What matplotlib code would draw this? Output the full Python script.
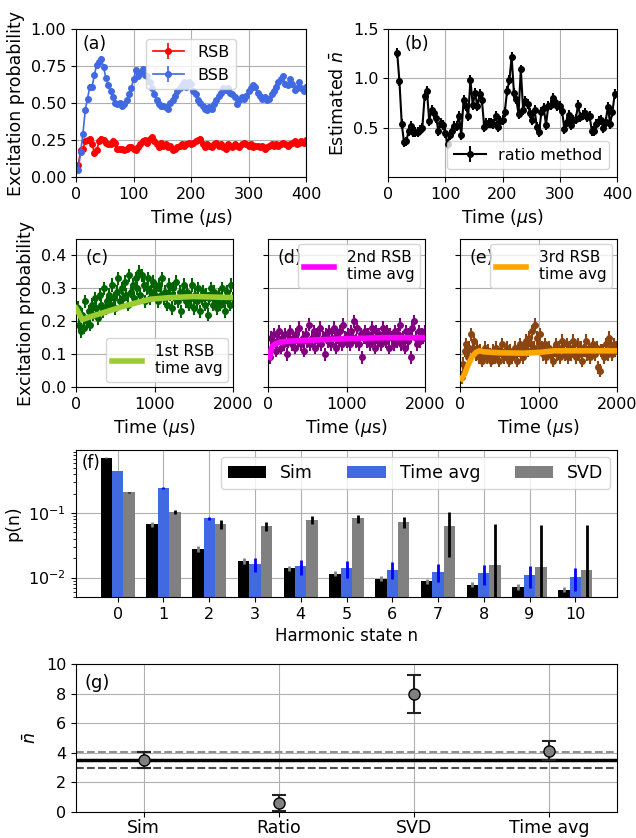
import numpy as np
import matplotlib.pyplot as plt

# ---- panel (a): sideband flopping ----
t_a = np.arange(4, 401, 4)
bsb = [0.05, 0.17, 0.29, 0.45, 0.53, 0.61, 0.61, 0.69, 0.76, 0.78,
       0.80, 0.74, 0.67, 0.62, 0.58, 0.54, 0.50, 0.49, 0.50, 0.48,
       0.49, 0.52, 0.56, 0.60, 0.66, 0.72, 0.68, 0.70, 0.73, 0.69,
       0.68, 0.64, 0.60, 0.56, 0.52, 0.49, 0.48, 0.48, 0.47, 0.46,
       0.50, 0.52, 0.55, 0.58, 0.60, 0.62, 0.64, 0.61, 0.64, 0.63,
       0.58, 0.56, 0.52, 0.50, 0.48, 0.46, 0.45, 0.47, 0.46, 0.49,
       0.52, 0.55, 0.57, 0.60, 0.59, 0.60, 0.57, 0.56, 0.54, 0.49,
       0.52, 0.54, 0.53, 0.55, 0.58, 0.60, 0.62, 0.61, 0.57, 0.55,
       0.53, 0.54, 0.52, 0.53, 0.56, 0.58, 0.61, 0.64, 0.66, 0.68,
       0.63, 0.62, 0.66, 0.63, 0.59, 0.60, 0.64, 0.60, 0.58, 0.61]
rsb = [0.08, 0.18, 0.19, 0.24, 0.25, 0.26, 0.22, 0.16, 0.18, 0.24,
       0.26, 0.25, 0.23, 0.22, 0.22, 0.24, 0.23, 0.19, 0.19, 0.19,
       0.18, 0.19, 0.20, 0.20, 0.19, 0.18, 0.20, 0.22, 0.24, 0.25,
       0.23, 0.26, 0.27, 0.24, 0.22, 0.20, 0.23, 0.21, 0.22, 0.20,
       0.21, 0.18, 0.19, 0.20, 0.21, 0.22, 0.21, 0.22, 0.23, 0.22,
       0.23, 0.24, 0.25, 0.26, 0.22, 0.20, 0.22, 0.21, 0.20, 0.22,
       0.23, 0.21, 0.22, 0.20, 0.19, 0.22, 0.21, 0.20, 0.22, 0.21,
       0.20, 0.22, 0.23, 0.22, 0.21, 0.22, 0.20, 0.21, 0.21, 0.20,
       0.21, 0.19, 0.20, 0.21, 0.22, 0.21, 0.22, 0.21, 0.22, 0.23,
       0.22, 0.21, 0.22, 0.23, 0.24, 0.22, 0.23, 0.24, 0.23, 0.25]
sb_err = 0.015

# ---- panel (b): ratio method ----
t_b = np.arange(16, 397, 4)
nbar_ratio = [1.26, 0.97, 0.54, 0.35, 0.36, 0.47, 0.52, 0.46, 0.46, 0.46,
              0.48, 0.50, 0.82, 0.87, 0.57, 0.68, 0.65, 0.60, 0.47, 0.55,
              0.53, 0.45, 0.33, 0.43, 0.47, 0.52, 0.52, 0.62, 0.43, 0.78,
              0.72, 0.62, 0.98, 0.73, 0.85, 0.72, 0.84, 0.78, 0.51, 0.55,
              0.55, 0.55, 0.54, 0.62, 0.51, 0.57, 0.58, 0.66, 0.87, 0.98,
              1.22, 0.85, 0.79, 0.64, 1.09, 0.68, 0.77, 0.74, 0.65, 0.58,
              0.68, 0.51, 0.46, 0.66, 0.70, 0.53, 0.72, 0.73, 0.80, 0.76,
              0.72, 0.72, 0.67, 0.49, 0.56, 0.63, 0.53, 0.58, 0.59, 0.73,
              0.61, 0.63, 0.65, 0.61, 0.62, 0.47, 0.47, 0.54, 0.57, 0.58,
              0.50, 0.56, 0.71, 0.54, 0.66, 0.84]
ratio_err = 0.05

# ---- panels (c)-(e): long time RSB ----
t_c = np.arange(20, 2001, 20)
rsb1 = [0.24, 0.19, 0.17, 0.22, 0.18, 0.26, 0.20, 0.23, 0.19, 0.25,
        0.22, 0.27, 0.24, 0.21, 0.28, 0.25, 0.23, 0.30, 0.24, 0.26,
        0.28, 0.25, 0.31, 0.27, 0.24, 0.29, 0.33, 0.26, 0.30, 0.27,
        0.32, 0.28, 0.25, 0.34, 0.29, 0.31, 0.27, 0.33, 0.30, 0.35,
        0.28, 0.34, 0.31, 0.26, 0.30, 0.33, 0.27, 0.29, 0.32, 0.28,
        0.30, 0.26, 0.31, 0.28, 0.33, 0.27, 0.29, 0.25, 0.31, 0.28,
        0.24, 0.30, 0.27, 0.32, 0.26, 0.29, 0.23, 0.28, 0.31, 0.26,
        0.29, 0.25, 0.27, 0.31, 0.24, 0.28, 0.26, 0.30, 0.23, 0.27,
        0.29, 0.25, 0.28, 0.22, 0.27, 0.30, 0.25, 0.29, 0.26, 0.24,
        0.28, 0.25, 0.30, 0.26, 0.23, 0.29, 0.27, 0.25, 0.31, 0.27]
rsb2 = [0.09, 0.15, 0.13, 0.16, 0.11, 0.14, 0.17, 0.12, 0.15, 0.13,
        0.16, 0.10, 0.14, 0.17, 0.13, 0.15, 0.12, 0.16, 0.14, 0.18,
        0.13, 0.15, 0.11, 0.16, 0.14, 0.19, 0.13, 0.15, 0.17, 0.12,
        0.16, 0.14, 0.18, 0.13, 0.15, 0.10, 0.16, 0.14, 0.17, 0.13,
        0.15, 0.18, 0.12, 0.16, 0.14, 0.17, 0.13, 0.19, 0.15, 0.14,
        0.16, 0.13, 0.17, 0.15, 0.20, 0.14, 0.18, 0.13, 0.16, 0.09,
        0.15, 0.17, 0.14, 0.16, 0.13, 0.18, 0.15, 0.12, 0.17, 0.14,
        0.16, 0.13, 0.18, 0.15, 0.14, 0.17, 0.12, 0.16, 0.15, 0.13,
        0.17, 0.14, 0.16, 0.19, 0.13, 0.15, 0.12, 0.17, 0.14, 0.16,
        0.09, 0.18, 0.20, 0.15, 0.13, 0.17, 0.14, 0.16, 0.15, 0.17]
rsb3 = [0.03, 0.07, 0.11, 0.13, 0.09, 0.12, 0.16, 0.11, 0.14, 0.10,
        0.12, 0.09, 0.11, 0.08, 0.10, 0.12, 0.09, 0.11, 0.10, 0.08,
        0.11, 0.09, 0.12, 0.10, 0.08, 0.11, 0.13, 0.09, 0.10, 0.12,
        0.08, 0.11, 0.09, 0.10, 0.12, 0.08, 0.11, 0.13, 0.10, 0.09,
        0.12, 0.14, 0.11, 0.15, 0.13, 0.17, 0.12, 0.19, 0.15, 0.13,
        0.16, 0.12, 0.10, 0.13, 0.09, 0.11, 0.12, 0.10, 0.08, 0.11,
        0.13, 0.10, 0.12, 0.09, 0.14, 0.11, 0.10, 0.13, 0.09, 0.12,
        0.10, 0.14, 0.11, 0.09, 0.13, 0.10, 0.12, 0.08, 0.11, 0.14,
        0.10, 0.12, 0.09, 0.11, 0.13, 0.10, 0.12, 0.06, 0.05, 0.11,
        0.11, 0.09, 0.13, 0.10, 0.15, 0.12, 0.10, 0.13, 0.11, 0.12]
rsb_long_err = 0.02

fit1_t = [0, 80, 200, 400, 600, 800, 950, 1200, 1500, 2000]
fit1 = [0.24, 0.205, 0.215, 0.23, 0.245, 0.258, 0.267, 0.272, 0.275, 0.272]
fit2_t = [20, 40, 60, 100, 150, 250, 400, 700, 1000, 1500, 2000]
fit2 = [0.09, 0.115, 0.125, 0.132, 0.136, 0.139, 0.141, 0.144, 0.147, 0.150, 0.150]
fit3_t = [20, 60, 100, 150, 200, 250, 300, 500, 800, 1000, 1200, 1500, 2000]
fit3 = [0.025, 0.04, 0.065, 0.09, 0.105, 0.11, 0.107, 0.104, 0.103, 0.105, 0.11, 0.11, 0.11]

# ---- panel (f): populations ----
n_states = np.arange(11)
p_sim = [0.72, 0.067, 0.028, 0.018, 0.014, 0.0115, 0.0096, 0.0087, 0.0078, 0.0072, 0.0065]
p_sim_err = [0.01, 0.007, 0.003, 0.002, 0.0012, 0.001, 0.0009, 0.0008, 0.0007, 0.0007, 0.0006]
p_tavg = [0.45, 0.245, 0.083, 0.016, 0.015, 0.014, 0.0133, 0.0124, 0.0116, 0.011, 0.0101]
p_tavg_err = [0.005, 0.005, 0.005, 0.004, 0.004, 0.004, 0.0039, 0.0038, 0.004, 0.004, 0.004]
p_svd = [0.21, 0.104, 0.067, 0.063, 0.078, 0.083, 0.072, 0.063, 0.0154, 0.0144, 0.0133]
p_svd_err = [0.004, 0.006, 0.01, 0.011, 0.011, 0.012, 0.014, 0.042, 0.052, 0.052, 0.052]

# ---- panel (g): nbar estimates ----
methods = ["Sim", "Ratio", "SVD", "Time avg"]
nbar_est = [3.5, 0.6, 8.0, 4.15]
nbar_err = [0.55, 0.55, 1.28, 0.65]
nbar_sim = 3.5
nbar_hi = 4.08
nbar_lo = 2.95

plt.rcParams["font.size"] = 11.5
plt.rcParams["axes.labelsize"] = 12.5
fig = plt.figure(figsize=(6.36, 8.38), dpi=100)
W, H = 636.0, 838.0


def rect(x0, x1, y0, y1):
    return [x0 / W, 1 - y1 / H, (x1 - x0) / W, (y1 - y0) / H]


mu_lab = r"Time ($\mu$s)"

# (a)
ax = fig.add_axes(rect(76, 306, 29, 177))
ax.errorbar(t_a, rsb, yerr=sb_err, fmt="o-", color="red", ms=4, lw=1.2, label="RSB")
ax.errorbar(t_a, bsb, yerr=sb_err, fmt="o-", color="royalblue", ms=4, lw=1.2, label="BSB")
ax.set_xlim(0, 400)
ax.set_ylim(0, 1)
ax.set_yticks([0, 0.25, 0.5, 0.75, 1.0])
ax.set_xlabel(mu_lab)
ax.set_ylabel("Excitation probability")
ax.grid(True)
ax.legend(loc="upper center", fontsize=11.5, borderaxespad=0.6)
ax.text(0.03, 0.96, "(a)", transform=ax.transAxes, va="top", fontsize=12.5)

# (b)
ax = fig.add_axes(rect(388, 617, 29, 177))
ax.errorbar(t_b, nbar_ratio, yerr=ratio_err, fmt="o-", color="black", ms=4, lw=1.5,
            label="ratio method")
ax.set_xlim(0, 400)
ax.set_ylim(0, 1.5)
ax.set_yticks([0.5, 1.0, 1.5])
ax.set_xlabel(mu_lab)
ax.set_ylabel(r"Estimated $\bar{n}$")
ax.grid(True)
ax.legend(loc="lower right", fontsize=11.5)
ax.text(0.07, 0.96, "(b)", transform=ax.transAxes, va="top", fontsize=12.5)

# (c)-(e)
panels = [
    (76, 233, rsb1, "darkgreen", fit1_t, fit1, "yellowgreen", "1st RSB\ntime avg", "lower right", "(c)"),
    (268, 425, rsb2, "purple", fit2_t, fit2, "magenta", "2nd RSB\ntime avg", "upper right", "(d)"),
    (460, 617, rsb3, "saddlebrown", fit3_t, fit3, "orange", "3rd RSB\ntime avg", "upper right", "(e)"),
]
first = None
for x0, x1, vals, col, ft, fv, fcol, lab, loc, tag in panels:
    ax = fig.add_axes(rect(x0, x1, 239, 387), sharey=first)
    ax.errorbar(t_c, vals, yerr=rsb_long_err, fmt="o", color=col, ms=4, elinewidth=1.5)
    ax.plot(ft, fv, color=fcol, lw=4, label=lab, zorder=4)
    ax.set_xlim(0, 2000)
    ax.set_xticks([0, 1000, 2000])
    ax.set_xlabel(mu_lab)
    ax.grid(True)
    ax.legend(loc=loc, fontsize=11, borderaxespad=0.3)
    ax.text(0.06, 0.93, tag, transform=ax.transAxes, va="top", fontsize=12.5)
    if first is None:
        first = ax
        ax.set_ylim(0, 0.45)
        ax.set_yticks([0, 0.1, 0.2, 0.3, 0.4])
        ax.set_ylabel("Excitation probability")
    else:
        ax.tick_params(labelleft=False)

# (f)
ax = fig.add_axes(rect(76, 617, 450, 597))
w = 0.25
ax.bar(n_states - w, p_sim, w, color="black", label="Sim")
ax.bar(n_states, p_tavg, w, color="royalblue", label="Time avg")
ax.bar(n_states + w, p_svd, w, color="gray", label="SVD")
ax.errorbar(n_states - w, p_sim, yerr=p_sim_err, fmt="none", ecolor="gray", elinewidth=2)
ax.errorbar(n_states, p_tavg, yerr=p_tavg_err, fmt="none", ecolor="blue", elinewidth=2)
ax.errorbar(n_states + w, p_svd, yerr=p_svd_err, fmt="none", ecolor="black", elinewidth=2)
ax.set_yscale("log")
ax.set_ylim(0.005, 0.95)
ax.set_xticks(n_states)
ax.tick_params(labelsize=11.5)
ax.set_xlabel("Harmonic state n", fontsize=12)
ax.set_ylabel("p(n)", fontsize=12.5)
ax.grid(True)
ax.set_axisbelow(True)
ax.legend(loc="upper right", ncol=3, fontsize=12.5, handlelength=2.2, columnspacing=2.0,
          borderaxespad=0.4)
ax.text(0.01, 0.97, "(f)", transform=ax.transAxes, va="top", fontsize=12)

# (g)
ax = fig.add_axes(rect(76, 617, 664, 812))
xm = np.arange(len(methods))
ax.axhline(nbar_sim, color="black", lw=2.5)
ax.axhline(nbar_hi, color="#909090", lw=1.5, ls="--")
ax.axhline(nbar_lo, color="#505050", lw=1.5, ls="--")
ax.errorbar(xm, nbar_est, yerr=nbar_err, fmt="o", color="gray", mec="black", ms=8,
            ecolor="#222222", elinewidth=1.5, capsize=5, capthick=1.5)
ax.set_xlim(-0.5, 3.5)
ax.set_ylim(0, 10)
ax.set_xticks(xm)
ax.set_xticklabels(methods, fontsize=12.5)
ax.tick_params(axis="x", pad=1.5)
ax.set_yticks([0, 2, 4, 6, 8, 10])
ax.tick_params(axis="y", labelsize=11.5)
ax.set_ylabel(r"$\bar{n}$", fontsize=12.5)
ax.grid(True)
ax.text(0.015, 0.93, "(g)", transform=ax.transAxes, va="top", fontsize=13)

fig.savefig("out.png", dpi=100)
